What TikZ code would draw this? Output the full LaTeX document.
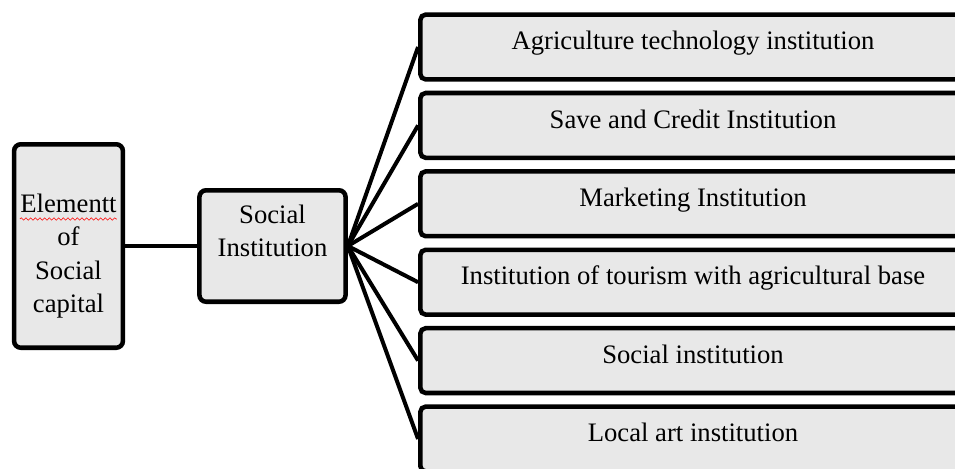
\documentclass[tikz,border=0pt]{standalone}
\usepackage{fontspec}
\setmainfont{Liberation Serif}
\usetikzlibrary{positioning,calc,decorations.pathmorphing}
\tikzset{
  % Define style for boxes
  box/.style={
    rectangle,
    rounded corners=5pt,
    draw=black, line width=3.4pt,
    fill=gray!18,
    font=\fontsize{20}{25}\selectfont,
    align=center},
  % Define style for the institution boxes
  inst/.style={
    box,
    rounded corners=4pt,
    minimum width=409pt,
    minimum height=48.6pt,
    text height=14pt,
    text depth=10pt},
  % line
  line/.style = {draw, line width=3pt},
}

\begin{document}
\begin{tikzpicture}[x=0.75pt, y=-0.75pt, node distance=6.8pt]
  \useasboundingbox (0,0) rectangle (955,468);
  % nodes
  \node[box, minimum width=81.6pt, minimum height=152.6pt, text height=104pt, text depth=4.4pt] (elem) at (68.5,246) {Elementt\\of\\Social\\capital};
  \node[box, minimum width=109.6pt, minimum height=83.6pt, text height=39pt, text depth=23pt, right=54pt of elem] (social) {Social\\Institution};
  \node[inst] (agri) at (693,47) {Agriculture technology institution};
  \node[inst, below=of agri] (credit) {Save and Credit Institution};
  \node[inst, below=of credit] (market) {Marketing Institution};
  \node[inst, below=of market] (tourism) {Institution of tourism with agricultural base};
  \node[inst, below=of tourism] (socinst) {Social institution};
  \node[inst, below=of socinst] (art) {Local art institution};
  % spelling mark
  \draw[red, thin, decorate, decoration={snake, amplitude=0.9pt, segment length=3.5pt}]
    ($(elem.north west)+(8,77)$) -- ++(97,0);
  % lines
  \path[line] (elem) -- (social);
  \foreach \n in {agri,credit,market,tourism,socinst,art}
    \path[line] (social.east) -- (\n.west);
\end{tikzpicture}
\end{document}
